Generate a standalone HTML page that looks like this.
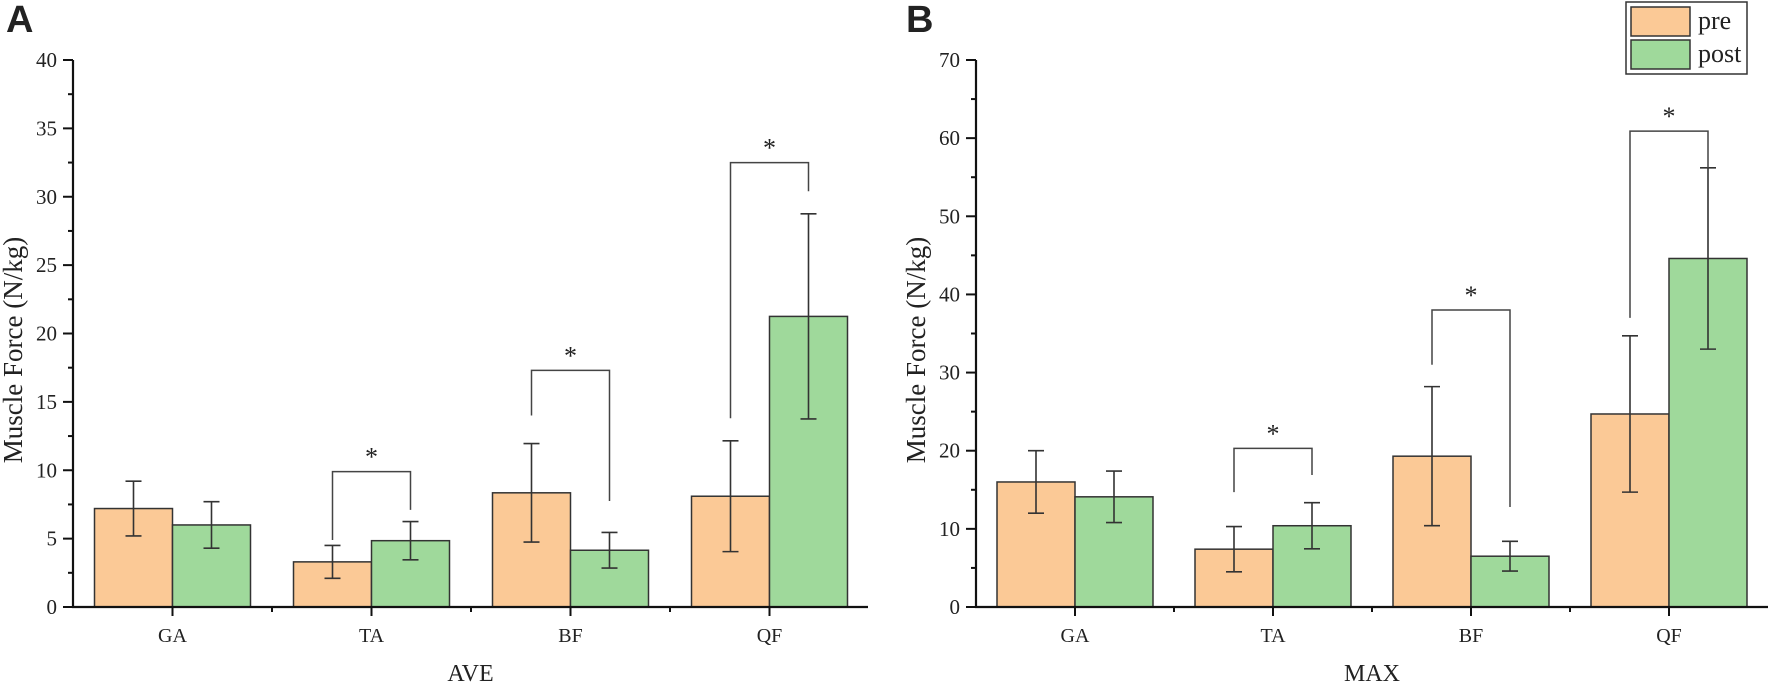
<!DOCTYPE html>
<html><head><meta charset="utf-8"><style>
body{margin:0;background:#fff}
svg{display:block}
text{font-family:"Liberation Serif",serif;fill:#222}
</style></head><body>
<svg id="chart" width="1772" height="688" viewBox="0 0 1772 688" xmlns="http://www.w3.org/2000/svg"></svg>
<script>
const categories = ["GA","TA","BF","QF"];
const avePre = [7.2, 3.3, 8.35, 8.1];
const avePreErr = [2.0, 1.2, 3.6, 4.05];
const avePost = [6.0, 4.85, 4.15, 21.25];
const avePostErr = [1.7, 1.4, 1.3, 7.5];
const aveBrTop = [null, 9.9, 17.3, 32.5];
const aveBrLeft = [null, 4.9, 14.0, 13.8];
const aveBrRight = [null, 7.1, 7.75, 30.4];
const aveTicks = [0,5,10,15,20,25,30,35,40];
const maxPre = [16.0, 7.4, 19.3, 24.7];
const maxPreErr = [4.0, 2.9, 8.9, 10.0];
const maxPost = [14.1, 10.4, 6.5, 44.6];
const maxPostErr = [3.3, 2.95, 1.9, 11.6];
const maxBrTop = [null, 20.3, 38.0, 60.9];
const maxBrLeft = [null, 14.7, 31.0, 37.0];
const maxBrRight = [null, 16.9, 12.8, 56.2];
const maxTicks = [0,10,20,30,40,50,60,70];

const NS="http://www.w3.org/2000/svg";
const svg=document.getElementById('chart');
function mk(tag,attrs,parent){const e=document.createElementNS(NS,tag);for(const k in attrs)e.setAttribute(k,attrs[k]);(parent||svg).appendChild(e);return e;}

function panel(o){
  const g=mk('g',{});
  
  
  const y0=607,yTop=60,x0=o.x0,x1=o.x1,step=o.step;
  const y=v=>y0-(v/o.ymax)*(y0-yTop);
  const cx=i=>x0+step/2+i*step;
  const bw=78;
  const lt=mk('text',{x:o.letterX,y:32,'font-size':38,'font-weight':'bold'},g);
  lt.style.fontFamily='"Liberation Sans",sans-serif';
  lt.textContent=o.id;
  
  
  for(let i=0;i<categories.length;i++){
    [[o.pre,o.preErr,-bw,'#FBC996'],[o.post,o.postErr,0,'#9FD99B']].forEach((s,si)=>{
      const v=s[0][i],e=s[1][i],bx=cx(i)+s[2];
      const r=mk('rect',{x:bx,y:y(v),width:bw,height:y0-y(v),fill:s[3],stroke:'#333','stroke-width':1.5},g);
      
      
      const mx=bx+bw/2;
      const eb=mk('path',{d:`M${mx},${y(v-e)}V${y(v+e)}M${mx-8},${y(v-e)}h16M${mx-8},${y(v+e)}h16`,stroke:'#333','stroke-width':1.6,fill:'none'},g);
      
      
    });
    if(o.brTop[i]!=null){
      const lx=cx(i)-bw/2,rx=cx(i)+bw/2;
      const b=mk('path',{d:`M${lx},${y(o.brLeft[i])}V${y(o.brTop[i])}H${rx}V${y(o.brRight[i])}`,stroke:'#444','stroke-width':1.5,fill:'none'},g);
      
      
      const st=mk('text',{x:cx(i),y:y(o.brTop[i])-6,'font-size':26,'text-anchor':'middle'},g);
      st.textContent='*';
      
      
    }
  }
  const ax=mk('path',{d:`M${x0},${yTop}V${y0}H${x1}`,stroke:'#111','stroke-width':2.2,fill:'none'},g);
  
  
  const tstep=o.ticks[1]-o.ticks[0];
  o.ticks.forEach((t,k)=>{
    mk('line',{x1:x0-10,x2:x0,y1:y(t),y2:y(t),stroke:'#111','stroke-width':2},g);
    if(k<o.ticks.length-1) mk('line',{x1:x0-5,x2:x0,y1:y(t+tstep/2),y2:y(t+tstep/2),stroke:'#111','stroke-width':2},g);
    const tl=mk('text',{x:x0-16,y:y(t)+7,'font-size':21,'text-anchor':'end'},g);
    tl.textContent=t;
    
    
  });
  for(let i=0;i<categories.length;i++){
    mk('line',{x1:cx(i),x2:cx(i),y1:y0,y2:y0+9,stroke:'#111','stroke-width':2},g);
    if(i<categories.length-1) mk('line',{x1:x0+step*(i+1),x2:x0+step*(i+1),y1:y0,y2:y0+5,stroke:'#111','stroke-width':2},g);
    const cl=mk('text',{x:cx(i),y:642,'font-size':20,'text-anchor':'middle'},g);
    cl.textContent=categories[i];
    
    
  }
  const xt=mk('text',{x:(x0+x1)/2,y:681,'font-size':24,'text-anchor':'middle'},g);
  xt.textContent=o.xtitle;
  
  
  const yt=mk('text',{x:0,y:0,'font-size':27,'text-anchor':'middle',transform:`translate(${x0-51},350) rotate(-90)`},g);
  yt.textContent='Muscle Force (N/kg)';
  
  
}
panel({id:'A',letterX:6,x0:73,x1:868,step:199,ymax:40,ticks:aveTicks,pre:avePre,preErr:avePreErr,post:avePost,postErr:avePostErr,brTop:aveBrTop,brLeft:aveBrLeft,brRight:aveBrRight,xtitle:'AVE'});
panel({id:'B',letterX:906,x0:976,x1:1768,step:198,ymax:70,ticks:maxTicks,pre:maxPre,preErr:maxPreErr,post:maxPost,postErr:maxPostErr,brTop:maxBrTop,brLeft:maxBrLeft,brRight:maxBrRight,xtitle:'MAX'});
const lg=mk('g',{});


mk('rect',{x:1626,y:2,width:121,height:72,fill:'#fff',stroke:'#333','stroke-width':1.5},lg);
[['pre','#FBC996',7],['post','#9FD99B',40]].forEach(d=>{
  const sw=mk('rect',{x:1631,y:d[2],width:59,height:29,fill:d[1],stroke:'#333','stroke-width':1.5},lg);
  
  
  const t=mk('text',{x:1698,y:d[2]+22,'font-size':26},lg);
  t.textContent=d[0];
  
  
});
</script>
</body></html>
